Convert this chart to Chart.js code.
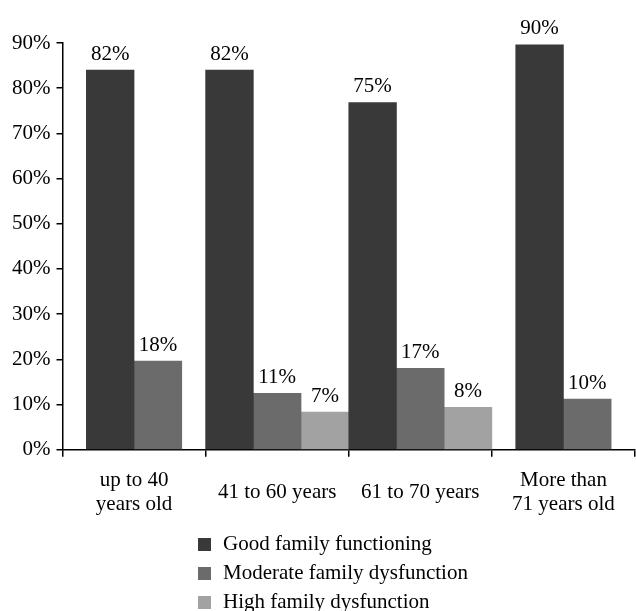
<!DOCTYPE html>
<html>
<head>
<meta charset="utf-8">
<script src="https://cdn.jsdelivr.net/npm/chart.js@4"></script>
<style>
  html, body { margin: 0; padding: 0; background: #fff; }
  #wrap { position: relative; width: 636px; height: 611px; }
  #legend { position: absolute; left: 198px; top: 529px; font-family: "Liberation Serif", "Times New Roman", serif; font-size: 21px; color: #000; }
  #legend div { height: 29px; line-height: 29px; white-space: nowrap; }
  #legend span.box { display: inline-block; width: 13px; height: 13px; margin-right: 12px; vertical-align: -1px; }
</style>
</head>
<body>
<div id="wrap">
  <canvas id="chart" width="636" height="611"></canvas>
  <div id="legend"></div>
</div>
<script>
// categories on the x axis
var categories = [["up to 40", "years old"], "41 to 60 years", "61 to 70 years", ["More than", "71 years old"]];
var seriesNames = ["Good family functioning", "Moderate family dysfunction", "High family dysfunction"];

// bar heights as drawn in the picture (%)
var good = [84.0, 84.0, 76.8, 89.6];
var moderate = [19.6, 12.5, 18.0, 11.2];
var high = [null, 8.3, 9.4, null];

// value labels printed above the bars
var goodText = ["82%", "82%", "75%", "90%"];
var moderateText = ["18%", "11%", "17%", "10%"];
var highText = [null, "7%", "8%", null];

var yTicks = [0, 10, 20, 30, 40, 50, 60, 70, 80, 90];

var colors = ["#393939", "#6b6b6b", "#a2a2a2"];
var FONT = "'Liberation Serif', 'Times New Roman', serif";

var valueLabels = {
  id: 'valueLabels',
  afterDatasetsDraw: function (chart) {
    var ctx = chart.ctx;
    var texts = [goodText, moderateText, highText];
    ctx.save();
    ctx.font = "21px " + FONT;
    ctx.fillStyle = "#000";
    ctx.textAlign = "center";
    ctx.textBaseline = "middle";
    chart.data.datasets.forEach(function (ds, i) {
      chart.getDatasetMeta(i).data.forEach(function (bar, j) {
        if (texts[i][j] == null || ds.data[j] == null) return;
        ctx.fillText(texts[i][j], bar.x, bar.y - 16);
      });
    });
    ctx.restore();
  }
};

var ctx = document.getElementById("chart").getContext('2d');
var chart = new Chart(ctx, {
  type: 'bar',
  data: {
    labels: categories,
    datasets: [
      { label: seriesNames[0], data: good, backgroundColor: colors[0] },
      { label: seriesNames[1], data: moderate, backgroundColor: colors[1] },
      { label: seriesNames[2], data: high, backgroundColor: colors[2] }
    ]
  },
  options: {
    responsive: false,
    animation: false,
    skipNull: true,
    barThickness: 47.7,
    layout: { padding: { top: 43, left: 6, right: 1, bottom: 58 } },
    plugins: {
      legend: { display: false },
      tooltip: { enabled: false }
    },
    scales: {
      x: {
        // the big label padding should not push the plot in from the right
        afterFit: function (axis) { axis.paddingRight = 0; axis.paddingLeft = 0; },
        grid: { display: true, drawOnChartArea: false, offset: true, color: "#000", tickLength: 7, lineWidth: 1.5 },
        border: { display: true, color: "#000", width: 1.5 },
        ticks: { color: "#000", font: { family: FONT, size: 21, lineHeight: 1.15 }, padding: 24, crossAlign: 'center', maxRotation: 0, autoSkip: false }
      },
      y: {
        min: 0,
        max: 90,
        afterBuildTicks: function (axis) { axis.ticks = yTicks.map(function (v) { return { value: v }; }); },
        grid: { display: true, drawOnChartArea: false, color: "#000", tickLength: 6, lineWidth: 1.5 },
        border: { display: true, color: "#000", width: 1.5 },
        ticks: { color: "#000", font: { family: FONT, size: 21 }, padding: 6, callback: function (v) { return v + "%"; } }
      }
    }
  },
  plugins: [valueLabels]
});

var legend = document.getElementById("legend");
chart.data.datasets.forEach(function (ds) {
  var row = document.createElement("div");
  var box = document.createElement("span");
  box.className = "box";
  box.style.background = ds.backgroundColor;
  row.appendChild(box);
  row.appendChild(document.createTextNode(ds.label));
  legend.appendChild(row);
});
</script>
</body>
</html>
